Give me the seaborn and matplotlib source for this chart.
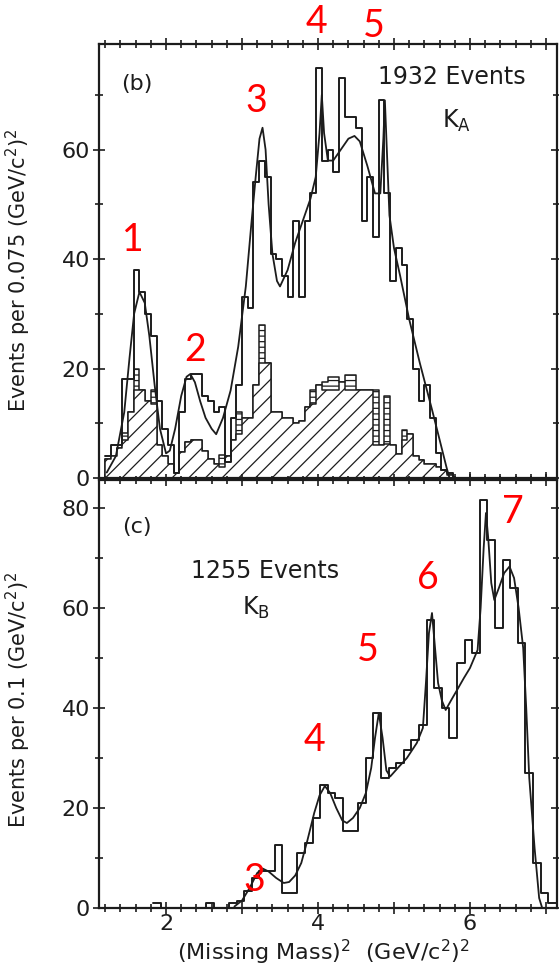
import numpy as np
import matplotlib
matplotlib.use("Agg")
import matplotlib.pyplot as plt
from matplotlib.ticker import MultipleLocator, FuncFormatter
import seaborn as sns

# ---------------- panel (b): K_A, bins of 0.075 (GeV/c^2)^2 ----------------
ka_first_edge = 1.20
ka_bin_width = 0.075
ka_total = [4, 6, 6, 18, 18, 38, 34, 30, 26, 14, 9, 6, 1, 12, 18, 19, 19, 15, 14, 12,
            13, 3, 11, 17, 33, 31, 54, 58, 55, 41, 40, 37, 33, 47, 33, 47, 52, 75, 58, 60,
            56, 73, 66, 66, 64, 47, 55, 44, 69, 52, 36, 42, 39, 29, 20, 14, 17, 11, 4.6, 1.5,
            1, 0]
ka_hatched = [3.5, 4, 5.5, 7, 12, 16, 16, 14, 13.5, 6, 4, 2.5, 1, 4.8, 6.5, 7, 7, 5, 3.5, 2.5,
              2, 4, 7, 8, 11, 11, 17, 21, 21, 12, 12, 11, 11, 10, 10.5, 13, 13.5, 17, 16, 16,
              16, 17.5, 16, 16, 16, 16, 16, 6, 6, 6.3, 6, 4.4, 7, 8, 4, 3.3, 2.5, 2.5, 2, 1.5,
              0.5, 0]
# top of the horizontally striped sub-sample stacked on the hatched one
ka_striped = [3.5, 4, 5.5, 8.2, 12, 20, 16, 14, 16, 6, 4, 2.5, 1, 4.8, 6.5, 7, 7, 5, 3.5, 2.5,
              4.2, 4, 7, 12, 11, 11, 17, 28, 21, 12, 12, 11, 11, 10, 10.5, 13, 16, 17, 17.6, 18.5,
              18.5, 17.5, 18.8, 18.8, 16, 16, 16, 16, 6, 15, 6, 4.4, 8.8, 8, 4, 3.3, 2.5, 2.5, 2, 1.5,
              0.5, 0]
ka_fit_x = [1.22, 1.34, 1.45, 1.52, 1.58, 1.65, 1.72, 1.78, 1.85, 1.92, 2.0, 2.05, 2.12, 2.2,
            2.27, 2.32, 2.38, 2.45, 2.52, 2.6, 2.66, 2.75, 2.85, 2.95, 3.05, 3.12, 3.18, 3.23,
            3.27, 3.31, 3.35, 3.4, 3.46, 3.5, 3.6, 3.7, 3.8, 3.9, 3.97, 4.02, 4.05, 4.08, 4.13,
            4.2, 4.3, 4.4, 4.48, 4.55, 4.65, 4.75, 4.82, 4.86, 4.88, 4.9, 4.94, 5.0, 5.08, 5.2,
            5.34, 5.5, 5.6, 5.69, 5.73]
ka_fit_y = [1, 4, 12, 22, 30, 34, 32, 26, 17, 9, 4.5, 5, 9, 15,
            18.5, 19, 17.5, 14, 11, 9, 8, 11, 16, 24, 35, 46, 55, 62,
            64, 60, 50, 41, 36, 35, 38, 43, 47, 51, 55, 63, 70, 63, 58,
            58, 60, 62, 62.5, 61.5, 57, 52, 52, 62, 69, 62, 48, 42, 37, 29,
            21, 12.5, 7, 2, 0]

# ---------------- panel (c): K_B, bins of 0.1 (GeV/c^2)^2 ----------------
kb_first_edge = 1.83
kb_bin_width = 0.1
kb_total = [1, 0, 0, 0, 0, 0, 0, 1, 0, 0, 1, 1.5, 3.5, 6, 7.5, 7.5, 12.6, 3, 3, 11,
            13, 18, 24.6, 23, 22, 15.3, 15.3, 21, 30, 39, 26, 28, 29, 31.6, 33.6, 36.6, 57.6, 44, 40, 34,
            49, 53.6, 51, 81.6, 73.6, 56, 69.6, 64, 53, 27, 9, 3, 1]
kb_fit_x = [2.9, 3.0, 3.1, 3.2, 3.27, 3.35, 3.45, 3.55, 3.62, 3.7, 3.78, 3.86, 3.95, 4.02,
            4.09, 4.16, 4.24, 4.32, 4.38, 4.46, 4.55, 4.63, 4.7, 4.75, 4.8, 4.85, 4.9, 4.95,
            5.05, 5.17, 5.3, 5.38, 5.42, 5.46, 5.5, 5.54, 5.58, 5.63, 5.68, 5.75, 5.83, 5.92,
            6.0, 6.1, 6.14, 6.18, 6.21, 6.24, 6.28, 6.32, 6.38, 6.45, 6.52, 6.58, 6.64, 6.7,
            6.74, 6.78, 6.85, 6.91, 6.95]
kb_fit_y = [0.3, 1.5, 4, 7, 7.9, 7.3, 6, 5, 5.2, 6.5, 9, 13.5, 19, 22.5,
            24.4, 23, 20, 17.5, 17, 18, 20, 23, 28, 34, 39, 34, 27.5, 26.3,
            28, 30, 33, 36, 45, 55, 59, 52, 45, 41.5, 39.6, 41.5, 43.6, 46,
            48, 51.6, 60, 72, 79, 74, 65, 61.6, 64, 67, 68.3, 66, 60, 52,
            40, 26, 12, 2, 0]

INK = "#1c1c1c"
RED = "#ff0000"

sns.set_style("ticks")
plt.rcParams["font.family"] = ["DejaVu Sans"]
plt.rcParams["hatch.linewidth"] = 0.9
plt.rcParams["hatch.color"] = INK
plt.rcParams["axes.linewidth"] = 1.6
plt.rcParams["axes.edgecolor"] = INK

W, H = 559, 967
fig = plt.figure(figsize=(W / 100, H / 100), dpi=100)


def fx(px):
    return px / W


def fy(py):
    return 1 - py / H


ax_b = fig.add_axes([fx(99), fy(478), fx(557) - fx(99), fy(44) - fy(478)])
ax_c = fig.add_axes([fx(99), fy(908), fx(557) - fx(99), fy(480) - fy(908)])


def hist_frame(first, width, n):
    edges = first + width * np.arange(n + 1)
    centers = edges[:-1] + width / 2
    return [float(e) for e in edges], [float(c) for c in centers]


def hatched_step(ax, centers, counts, edges, hatch):
    n_before = len(ax.collections)
    sns.histplot(x=centers, weights=counts, bins=edges, element="step", fill=True,
                 color=INK, alpha=1, linewidth=1.1, ax=ax)
    for coll in ax.collections[n_before:]:
        coll.set_facecolor("white")
        coll.set_edgecolor(INK)
        coll.set_hatch(hatch)
        coll.set_linewidth(1.1)


# panel (b) histograms
edges_b, centers_b = hist_frame(ka_first_edge, ka_bin_width, len(ka_total))
hatched_step(ax_b, centers_b, ka_striped, edges_b, "---")
hatched_step(ax_b, centers_b, ka_hatched, edges_b, "//")
sns.histplot(x=centers_b, weights=ka_total, bins=edges_b, element="step", fill=False,
             color=INK, linewidth=1.4, ax=ax_b)
sns.lineplot(x=ka_fit_x, y=ka_fit_y, sort=False, color=INK, linewidth=1.3, ax=ax_b)

# panel (c) histogram
edges_c, centers_c = hist_frame(kb_first_edge, kb_bin_width, len(kb_total))
sns.histplot(x=centers_c, weights=kb_total, bins=edges_c, element="step", fill=False,
             color=INK, linewidth=1.4, ax=ax_c)
sns.lineplot(x=kb_fit_x, y=kb_fit_y, sort=False, color=INK, linewidth=1.3, ax=ax_c)

even_only = FuncFormatter(lambda v, pos: f"{int(round(v))}" if int(round(v)) % 2 == 0 else "")

for ax, ytop in ((ax_b, 79.3), (ax_c, 85.6)):
    ax.set_xlim(1.118, 7.145)
    ax.set_ylim(0, ytop)
    ax.set_xlabel("")
    ax.set_ylabel("")
    ax.xaxis.set_major_locator(MultipleLocator(1))
    ax.xaxis.set_minor_locator(MultipleLocator(0.2))
    ax.yaxis.set_major_locator(MultipleLocator(20))
    ax.yaxis.set_minor_locator(MultipleLocator(10))
    ax.tick_params(which="both", direction="inout", top=True, right=True,
                   color=INK, width=1.2, labelsize=16, labelcolor=INK)
    ax.tick_params(which="major", length=9, pad=2)
    ax.tick_params(which="minor", length=6)
    ax.yaxis.set_minor_formatter(FuncFormatter(lambda v, p: ""))
    for s in ax.spines.values():
        s.set_visible(True)
        s.set_linewidth(1.6)
        s.set_color(INK)
    ax.set_facecolor("white")

ax_b.tick_params(axis="x", labelbottom=False)
ax_c.xaxis.set_major_formatter(even_only)
ax_c.tick_params(axis="x", pad=0)

# black annotations
fig.text(fx(121), fy(84), "(b)", fontsize=16, color=INK, va="center", ha="left")
fig.text(fx(526), fy(77), "1932 Events", fontsize=17, color=INK, va="center", ha="right")
fig.text(fx(442), fy(121), "K$_\\mathregular{A}$", fontsize=17, color=INK, va="center", ha="left")
fig.text(fx(122), fy(527), "(c)", fontsize=16, color=INK, va="center", ha="left")
fig.text(fx(191), fy(571), "1255 Events", fontsize=17, color=INK, va="center", ha="left")
fig.text(fx(242), fy(608), "K$_\\mathregular{B}$", fontsize=17, color=INK, va="center", ha="left")

fig.text(fx(18), fy(270), "Events per 0.075 (GeV/c$^\\mathregular{2}$)$^\\mathregular{2}$",
         rotation=90, fontsize=15, color=INK, ha="center", va="center")
fig.text(fx(18), fy(700), "Events per 0.1 (GeV/c$^\\mathregular{2}$)$^\\mathregular{2}$",
         rotation=90, fontsize=15, color=INK, ha="center", va="center")
fig.text(fx(323), fy(952), "(Missing Mass)$^\\mathregular{2}$  (GeV/c$^\\mathregular{2}$)$^\\mathregular{2}$",
         fontsize=16, color=INK, ha="center", va="center")

# peak numbering
peaks_b = [("1", 133, 240), ("2", 195, 350), ("3", 256, 101), ("4", 316, 22), ("5", 374, 26)]
peaks_c = [("7", 513, 512), ("6", 428, 578), ("5", 368, 650), ("4", 314, 740), ("3", 254, 880)]
for label, px, py in peaks_b + peaks_c:
    fig.text(fx(px), fy(py), label, fontsize=27, color=RED, ha="center", va="center",
             family=["Lato", "DejaVu Sans"])

fig.savefig("out.png", dpi=100, facecolor="white")
